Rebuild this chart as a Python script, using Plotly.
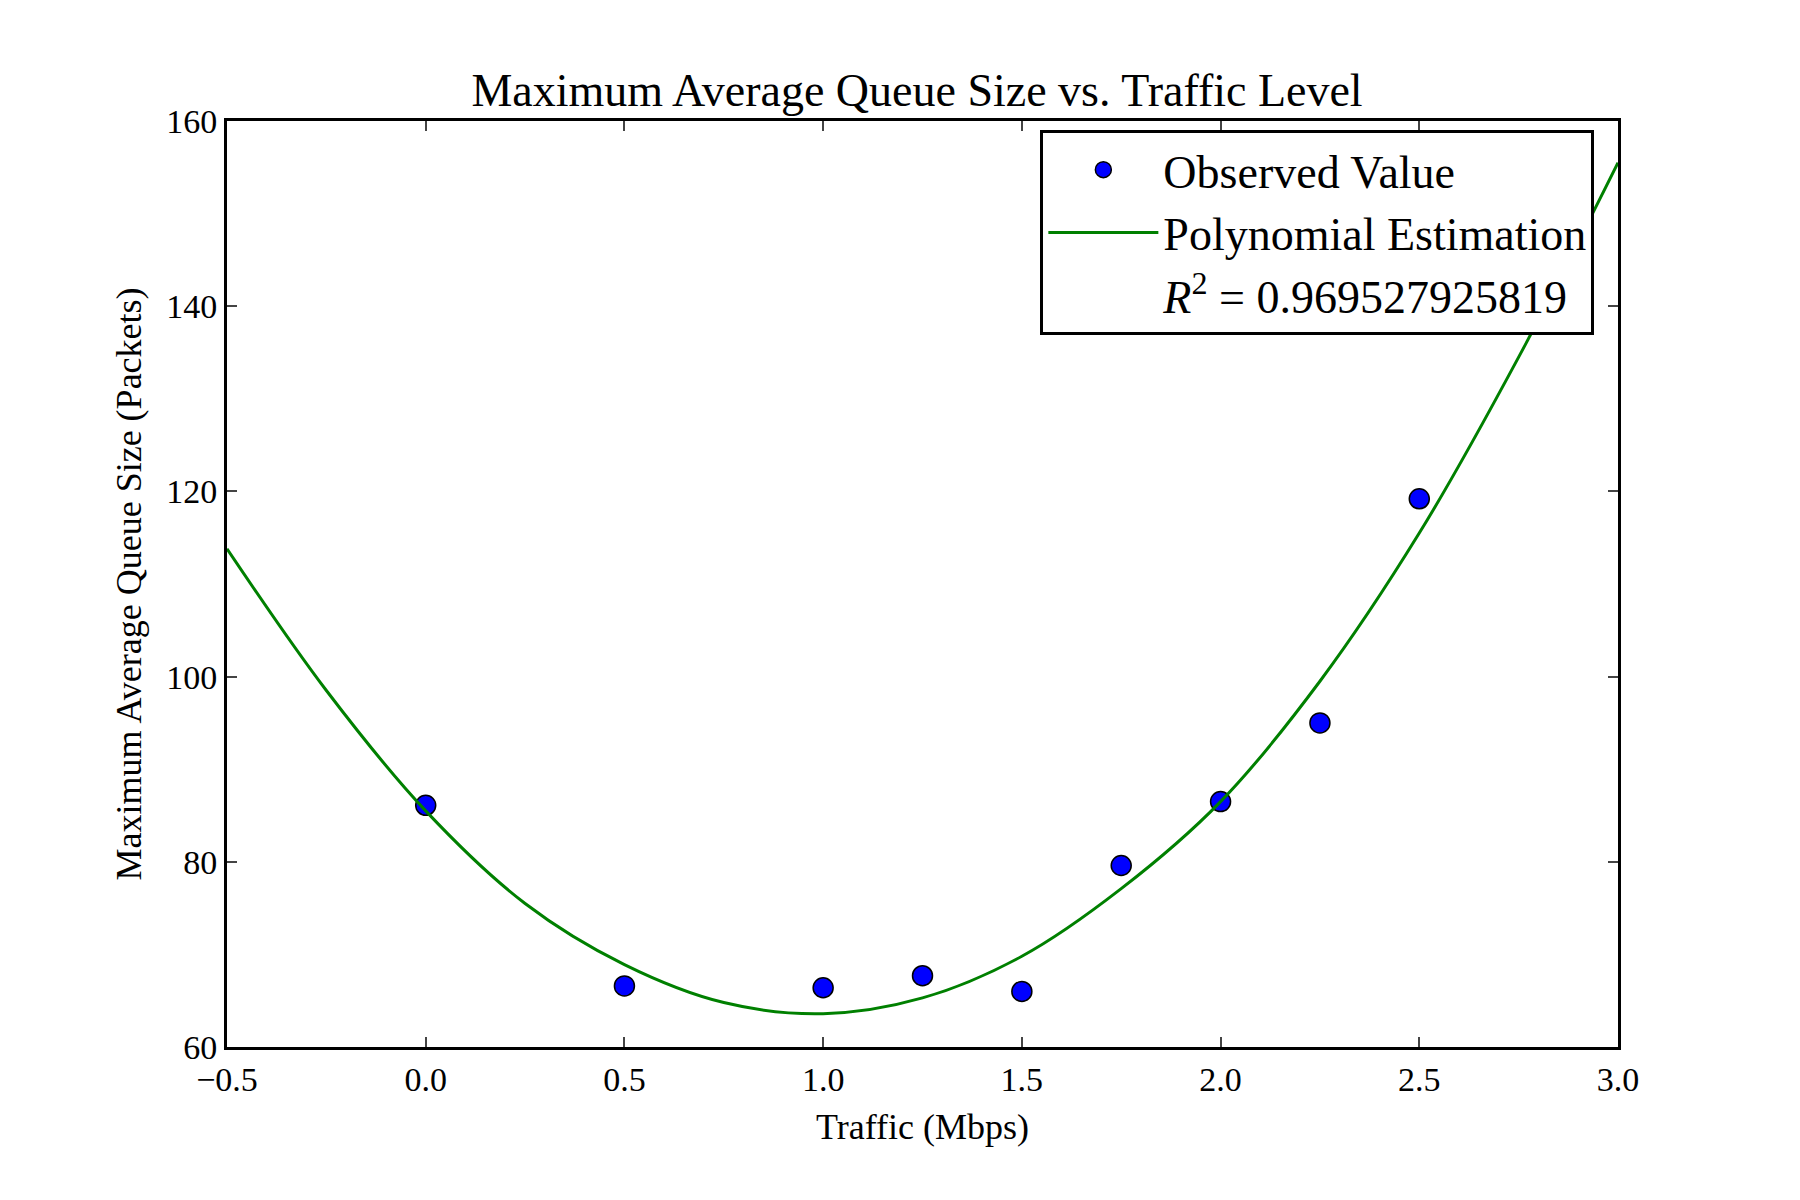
import plotly.graph_objects as go

# observed values
traffic = [0.0, 0.5, 1.0, 1.25, 1.5, 1.75, 2.0, 2.25, 2.5]
queue = [86.1, 66.6, 66.4, 67.7, 66.0, 79.6, 86.5, 95.0, 119.2]

# polynomial estimate
fit_x = [-0.5, -0.25, 0.0, 0.25, 0.5, 0.75, 1.0, 1.25, 1.5, 1.75, 2.0, 2.25, 2.5, 2.75, 3.0]
fit_y = [113.8, 98.5, 85.5, 75.5, 68.9, 64.8, 63.6, 65.3, 69.8, 77.1, 86.5, 99.5, 115.5, 134.5, 155.5]

r2_label = "<i>R</i><sup>2</sup> = 0.969527925819"
FONT = "Liberation Serif"

fig = go.Figure()
fig.add_trace(go.Scatter(
    x=traffic, y=queue, mode="markers", name="Observed Value",
    marker=dict(size=20, color="blue", line=dict(width=1.5, color="black")),
))
fig.add_trace(go.Scatter(
    x=fit_x, y=fit_y, mode="lines", name="Polynomial Estimation",
    line=dict(color="green", width=3, shape="spline"),
))
fig.add_trace(go.Scatter(
    x=[None], y=[None], mode="lines", name=r2_label,
    line=dict(color="rgba(0,0,0,0)"),
))

axis = dict(showgrid=False, zeroline=False, mirror="ticks", ticks="inside",
            ticklen=10, tickwidth=1.5, linecolor="black", linewidth=3,
            showline=True, tickfont=dict(size=34, family=FONT, color="black"))

fig.update_layout(
    width=1800, height=1200,
    paper_bgcolor="white", plot_bgcolor="white",
    margin=dict(l=219, r=190, t=113, b=161),
    font=dict(family=FONT, color="black"),
    title=dict(text="Maximum Average Queue Size vs. Traffic Level",
               x=0.505, xanchor="center", y=0.945, font=dict(size=46)),
    xaxis=dict(axis, range=[-0.5, 3.0], dtick=0.5, tickformat=".1f",
               title=dict(text="Traffic (Mbps)", font=dict(size=36), standoff=18)),
    yaxis=dict(axis, range=[60, 160], dtick=20,
               title=dict(text="Maximum Average Queue Size (Packets)", font=dict(size=36), standoff=14)),
    legend=dict(x=0.983, y=0.99, xanchor="right", yanchor="top",
                bordercolor="black", borderwidth=3, bgcolor="white",
                font=dict(size=46), itemwidth=110, tracegroupgap=8),
)

fig.write_html("out.html")
